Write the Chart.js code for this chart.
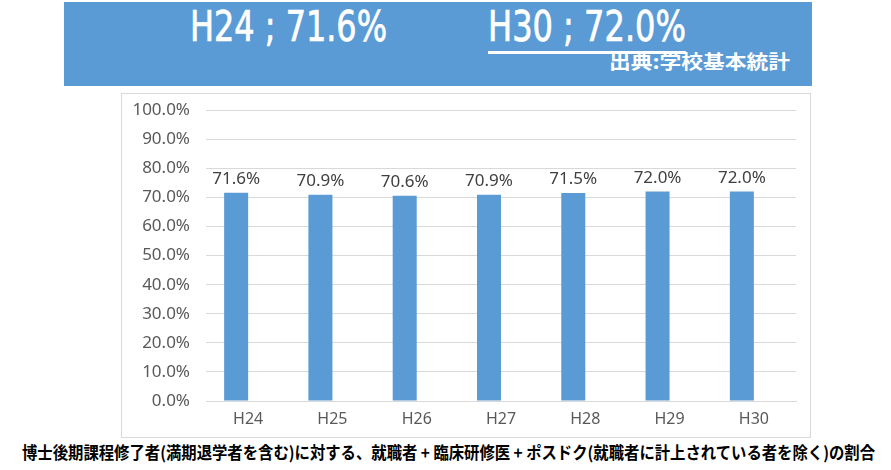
<!DOCTYPE html>
<html>
<head>
<meta charset="utf-8">
<script src="https://cdn.jsdelivr.net/npm/chart.js@4"></script>
<style>
  body { margin: 0; background: #fff; width: 891px; height: 470px; position: relative; overflow: hidden; }
  #banner { position: absolute; left: 64px; top: 2px; width: 748px; height: 84px; background: #5b9bd5; }
  .fit { position: absolute; white-space: nowrap; color: #fff; transform-origin: 0 0; }
  #t1, #t2 { font-family: "Liberation Sans Narrow", "DejaVu Sans Condensed", sans-serif; font-size: 42px; line-height: 42px; -webkit-text-stroke: 0.7px #fff; }
  #t2 span { border-bottom: 3px solid #fff; }
  #src { font-family: "Noto Sans CJK JP", sans-serif; font-weight: bold; font-size: 19px; line-height: 19px; }
  #frame { position: absolute; left: 121px; top: 93px; width: 690px; height: 345px; border: 1px solid #d9d9d9; box-sizing: border-box; }
  #wrap { position: absolute; left: 0; top: -10px; width: 688px; height: 353px; }
  #note { font-family: "Noto Sans CJK JP", sans-serif; font-weight: bold; font-size: 17px; line-height: 17px; color: #000; }
</style>
</head>
<body>
<div id="banner"></div>
<div class="fit" id="t1" data-x="190" data-y="6" data-w="197">H24 ; 71.6%</div>
<div class="fit" id="t2" data-x="488" data-y="6" data-w="198"><span>H30 ; 72.0%</span></div>
<div class="fit" id="src" data-x="609" data-y="51" data-w="181">出典:学校基本統計</div>
<div id="frame"><div id="wrap"><canvas id="myChart"></canvas></div></div>
<div class="fit" id="note" data-x="22" data-y="443" data-w="853">博士後期課程修了者(満期退学者を含む)に対する、就職者 + 臨床研修医 + ポスドク(就職者に計上されている者を除く)の割合</div>
<script>
// data
let years = ['H24', 'H25', 'H26', 'H27', 'H28', 'H29', 'H30'];
let rates = [71.6, 70.9, 70.6, 70.9, 71.5, 72.0, 72.0];
let emptySeries = [];
let yTicks = [0, 10, 20, 30, 40, 50, 60, 70, 80, 90, 100];

// squeeze text boxes to the widths seen in the picture
document.querySelectorAll('.fit').forEach(function(el){
  el.style.left = el.dataset.x + 'px';
  el.style.top = el.dataset.y + 'px';
  let w = el.getBoundingClientRect().width;
  el.style.transform = 'scaleX(' + (el.dataset.w / w) + ')';
});

let barLabels = {
  id: 'barLabels',
  afterDatasetsDraw(chart){
    let c = chart.ctx;
    let meta = chart.getDatasetMeta(0);
    c.save();
    c.font = '17px "Noto Sans", sans-serif';
    c.fillStyle = '#404040';
    c.textAlign = 'center';
    c.textBaseline = 'bottom';
    meta.data.forEach(function(bar, i){
      c.fillText(rates[i].toFixed(1) + '%', bar.x, bar.y - 5);
    });
    c.restore();
  }
};

let ctx = document.getElementById('myChart');
new Chart(ctx, {
  type: 'bar',
  data: {
    labels: years,
    datasets: [
      { label: '割合', data: rates, backgroundColor: '#5b9bd5', categoryPercentage: 0.57, barPercentage: 1 },
      { label: '', data: emptySeries, backgroundColor: '#ed7d31', categoryPercentage: 0.57, barPercentage: 1 }
    ]
  },
  options: {
    responsive: true,
    maintainAspectRatio: false,
    animation: false,
    layout: { padding: { top: 4, right: 14, left: 0, bottom: 0 } },
    plugins: { legend: { display: false }, tooltip: { enabled: false } },
    scales: {
      x: {
        grid: { display: false, drawTicks: false },
        border: { display: true, color: '#d9d9d9' },
        ticks: { color: '#595959', font: { family: 'Noto Sans', size: 16 }, padding: 9 },
        afterFit(scale){ scale.height = 36; }
      },
      y: {
        min: 0,
        max: 100,
        afterBuildTicks(scale){ scale.ticks = yTicks.map(v => ({ value: v })); },
        grid: { color: '#d9d9d9', drawTicks: false },
        border: { display: false },
        ticks: {
          color: '#595959',
          font: { family: 'Noto Sans', size: 17 },
          padding: 16,
          callback: v => v.toFixed(1) + '%'
        },
        afterFit(scale){ scale.width = 84; }
      }
    }
  },
  plugins: [barLabels]
});
</script>
</body>
</html>
